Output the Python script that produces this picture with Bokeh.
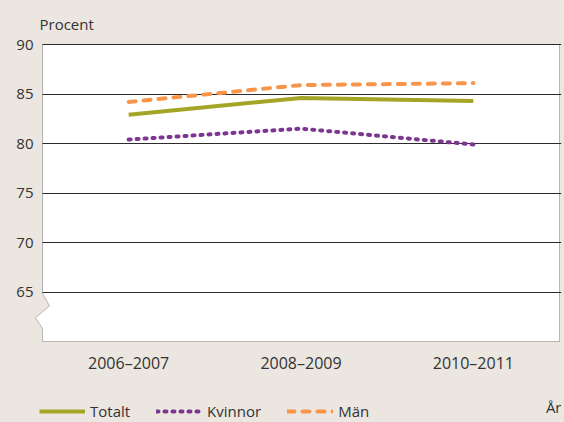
from bokeh.plotting import figure
from bokeh.layouts import column
from bokeh.models import (Legend, LegendItem, PolyAnnotation, BoxAnnotation, FixedTicker,
                          Range1d, Label)
from bokeh.embed import file_html
from bokeh.resources import INLINE

periods = ["2006–2007", "2008–2009", "2010–2011"]
totalt = [82.9, 84.6, 84.3]
kvinnor = [80.4, 81.5, 79.9]
man = [84.2, 85.9, 86.1]
y_ticks = [65, 70, 75, 80, 85, 90]
series_names = ["Totalt", "Kvinnor", "Män"]

FONT = "Open Sans"
BG = "#ebe6e0"
INK = "#2b2b2b"
TXT = "#333333"

styles = [
    dict(line_color="#a4a526", line_width=4),
    dict(line_color="#7d3592", line_width=4, line_dash="2 6", line_cap="round"),
    dict(line_color="#f7964a", line_width=4, line_dash="7 8", line_cap="round"),
]

xpos = [i + 0.5 for i in range(len(periods))]
n = len(periods)

W = 564
H_MAIN, H_LEG = 386, 36
left_b, right_b, top_b, bot_b = 33, 3, 43, 44
ppu_x = 517.0 / n
ppu_y = 297.0 / 30.0
x0 = -9.0 / ppu_x
x1 = n + 2.0 / ppu_x
dx = 7.0 / ppu_x

p = figure(x_range=Range1d(x0, x1), y_range=Range1d(60 - 1 / ppu_y, 90 + 1 / ppu_y),
           width=W, height=H_MAIN, output_backend="svg", toolbar_location=None,
           min_border_left=left_b, min_border_right=right_b,
           min_border_top=top_b, min_border_bottom=bot_b)

p.background_fill_color = BG
p.border_fill_color = BG
p.outline_line_color = None

p.xgrid.grid_line_color = None
p.ygrid.grid_line_color = INK
p.ygrid.grid_line_width = 1
p.ygrid.ticker = FixedTicker(ticks=y_ticks)

ya = p.yaxis[0]
ya.ticker = FixedTicker(ticks=y_ticks)
ya.axis_line_color = None
ya.major_tick_line_color = None
ya.minor_tick_line_color = None
ya.major_tick_out = 0
ya.major_tick_in = 0
ya.minor_tick_out = 0
ya.major_label_standoff = 0
ya.major_label_text_font = FONT
ya.major_label_text_font_size = "15px"
ya.major_label_text_color = TXT

xa = p.xaxis[0]
xa.ticker = FixedTicker(ticks=xpos)
xa.major_label_overrides = {x: lab for x, lab in zip(xpos, periods)}
xa.axis_line_color = None
xa.major_tick_line_color = None
xa.minor_tick_line_color = None
xa.major_tick_out = 0
xa.major_tick_in = 0
xa.minor_tick_out = 0
xa.major_label_standoff = 9
xa.major_label_text_font = FONT
xa.major_label_text_font_size = "16px"
xa.major_label_text_color = TXT

frame_xs = [0, n, n, 0, 0, -dx, dx, 0]
frame_ys = [90, 90, 60, 60, 61.3, 62.4, 63.6, 64.85]
white = PolyAnnotation(xs=frame_xs, ys=frame_ys, fill_color="white", fill_alpha=1,
                       line_color=None, level="underlay")
p.center = [white] + list(p.center)

for vals, st in zip([totalt, kvinnor, man], styles):
    p.line(xpos, vals, **st)

p.add_layout(BoxAnnotation(right=0, bottom=64.9, fill_color=BG, fill_alpha=1, line_color=None))
p.add_layout(PolyAnnotation(xs=frame_xs, ys=frame_ys, fill_alpha=0, line_color=INK, line_width=1))

p.title.text = "Procent"
p.title.align = "left"
p.title.offset = 6
p.title.standoff = 19
p.title.text_font = FONT
p.title.text_font_size = "15px"
p.title.text_font_style = "normal"
p.title.text_color = TXT

# legend strip (series are drawn here outside the visible y range; only the legend shows)
q = figure(x_range=Range1d(left_b, W - right_b), y_range=Range1d(0, H_LEG),
           width=W, height=H_LEG, output_backend="svg", toolbar_location=None,
           x_axis_location=None, y_axis_location=None,
           min_border_left=left_b, min_border_right=right_b, min_border_top=0, min_border_bottom=0)
q.grid.visible = False
q.outline_line_color = None
q.background_fill_alpha = 0
q.border_fill_alpha = 0

items = []
for name, vals, st in zip(series_names, [totalt, kvinnor, man], styles):
    r = q.line(xpos, vals, **st)
    items.append(LegendItem(label=name, renderers=[r]))

legend = Legend(items=items, location=(39 - left_b, 1), orientation="horizontal",
                glyph_width=46, glyph_height=14, label_standoff=5, spacing=26,
                padding=0, margin=0, border_line_color=None, background_fill_alpha=0,
                label_text_font=FONT, label_text_font_size="15px", label_text_color=TXT,
                label_height=14)
q.add_layout(legend)
q.add_layout(Label(x=W - right_b, y=16, text="År", text_font=FONT, text_font_size="15px",
                   text_color=TXT, text_align="right", text_baseline="alphabetic"))

layout = column(p, q, spacing=0, styles={"background-color": BG})
open("out.html", "w").write(file_html(layout, INLINE))
